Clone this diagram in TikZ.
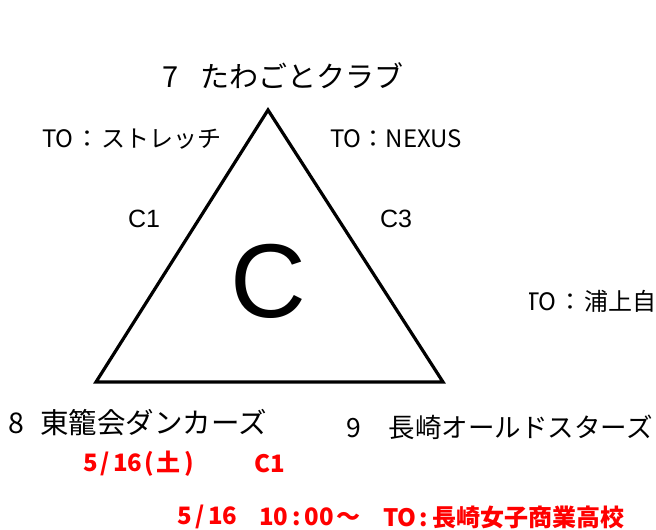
\documentclass[tikz,border=0pt]{standalone}
\usepackage{fontspec}
\setmainfont{Noto Sans CJK JP}
\newfontfamily\arialfont{Liberation Sans}
\begin{document}
\begin{tikzpicture}[x=1pt,y=-1pt,
  lbl/.style={inner sep=0pt, anchor=west},
  tolbl/.style={lbl, font=\fontsize{24}{24}\selectfont},
  bigname/.style={lbl, font=\fontsize{28}{28}\selectfont},
  clbl/.style={inner sep=0pt, font=\arialfont\fontsize{25}{25}\selectfont},
  redlbl/.style={inner sep=0pt, anchor=west, text=red, font=\fontsize{24}{24}\selectfont\bfseries}]
\useasboundingbox (0,0) rectangle (656,530);
% triangle
\coordinate (top) at (268,110);
\coordinate (bl) at (96,382);
\coordinate (br) at (443,382);
\draw[line width=3.2pt, line join=miter] (top) -- (bl) -- (br) -- cycle;
\node[inner sep=0pt, font=\arialfont\fontsize{105}{105}\selectfont] (cc) at (268,281) {C};
% labels
\node[bigname, font=\fontsize{29}{29}\selectfont] (t7) at (162,76) {7\hspace{22pt}たわごとクラブ};
\node[tolbl] (to1) at (42,139) {TO\kern2pt：\kern2ptストレッチ};
\node[tolbl] (to3) at (330,139) {TO：NEXUS};
\node[clbl] (c1) at (144,219) {C1};
\node[clbl] (c3) at (396,219) {C3};
\begin{scope}
\clip (529,280) rectangle (656,320);
\node[tolbl] (to2) at (525,301) {TO\kern2pt：\kern2pt浦上自治会};
\end{scope}
\node[bigname, font=\fontsize{28.5}{28.5}\selectfont] (t8) at (8,423) {8\hspace{16pt}東籠会ダンカーズ};
\node[bigname, font=\fontsize{26.5}{26.5}\selectfont] (t9) at (346,427) {9\hspace{28pt}長崎オールドスターズ};
% red
\node[redlbl] (d1) at (83,464) {5\kern3pt/\kern3pt16};
\node[redlbl] (d1w) at (144,464) {(\kern3pt土\kern4pt)};
\node[redlbl] (d1c) at (254,464) {C1};
\node[redlbl] (d2) at (177,517) {5\kern3.5pt/\kern3.5pt16};
\node[redlbl] (d2t) at (259,517) {10\kern4pt:\kern4pt00\kern2pt～};
\node[redlbl] (d2o) at (383,517) {TO\kern3pt:\kern4pt長崎女子商業高校};
\end{tikzpicture}
\end{document}
